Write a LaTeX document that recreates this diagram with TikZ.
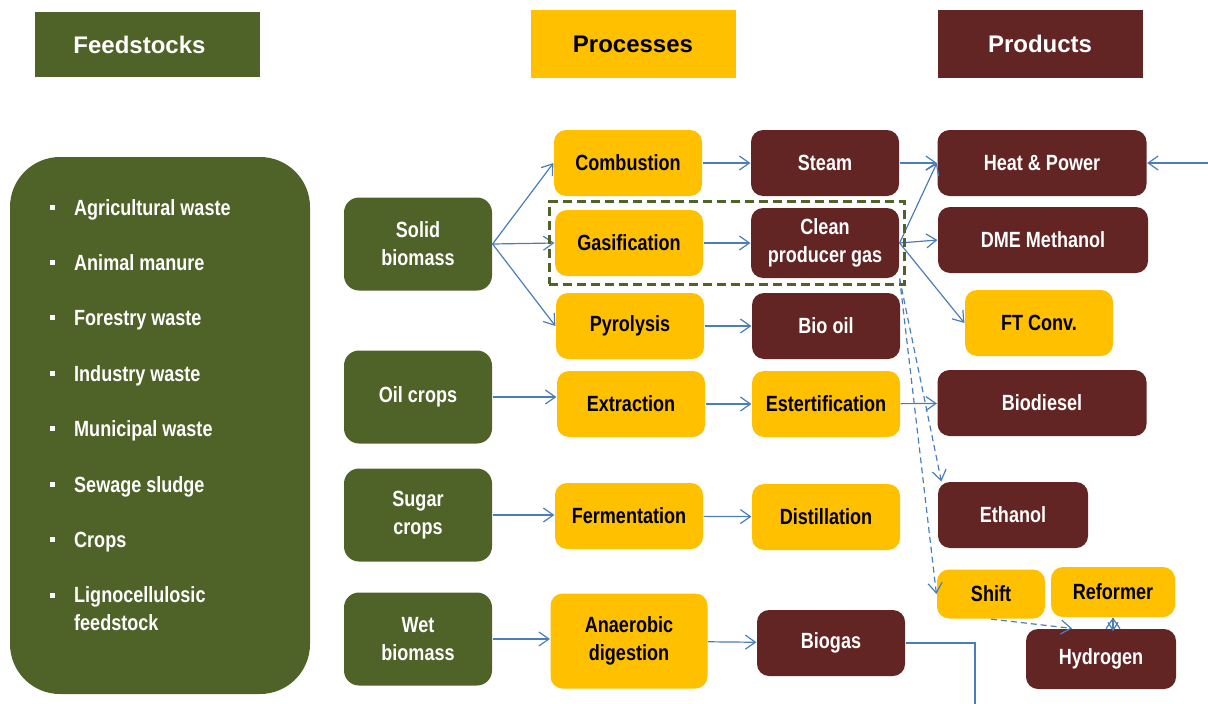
\documentclass[tikz,border=0pt]{standalone}
\usepackage{fontspec}
\setmainfont{Liberation Sans}
\newfontfamily\narrowfont{Liberation Sans}[FakeStretch=0.82]
\usetikzlibrary{arrows.meta,fit}

\definecolor{feedgreen}{HTML}{4F6228}
\definecolor{procyellow}{HTML}{FFC000}
\definecolor{prodred}{HTML}{632523}
\definecolor{linkblue}{HTML}{4A7EBB}

\begin{document}
\begin{tikzpicture}[>={Straight Barb[length=10pt,width=14pt]}, x=1pt, y=-1pt]
    \tikzstyle{box} = [rounded corners=12pt, minimum width=148pt, minimum height=66pt,
	inner sep=2pt, align=center, font=\narrowfont\bfseries\fontsize{22}{28}\selectfont]
    \tikzstyle{feed} = [box, fill=feedgreen, text=white, minimum height=93pt, rounded corners=15pt]
    \tikzstyle{proc} = [box, fill=procyellow, text=black]
    \tikzstyle{prod} = [box, fill=prodred, text=white]
    \tikzstyle{header} = [minimum width=205pt, minimum height=67pt,
	font=\bfseries\fontsize{24}{28}\selectfont]
    \tikzstyle{item} = [anchor=west, inner sep=0pt, align=left, text=white,
	font=\narrowfont\bfseries\fontsize{22}{28}\selectfont]
    \tikzstyle{bullet} = [fill=white, minimum size=5pt, inner sep=0pt]
    \tikzstyle{link} = [->, draw=linkblue, line width=1.2pt]
    \tikzstyle{hint} = [dash pattern=on 6pt off 4pt]
    \tikzstyle{short} = [-{Straight Barb[length=8pt,width=10pt]}]

	\useasboundingbox (0,0) rectangle (1208,704);

	% column headers
	\node[header, fill=feedgreen, text=white, minimum width=225pt, minimum height=65pt] (hfeed) at (147.5,44.5) {Feedstocks\hspace*{16pt}};
	\node[header, fill=procyellow, text=black, minimum height=68pt] (hproc) at (633,44) {Processes};
	\node[header, fill=prodred, text=white, minimum height=68pt] (hprod) at (1040,44) {Products};

	% feedstock list
	\node[fill=feedgreen, rounded corners=50pt, minimum width=300pt, minimum height=537pt] (feedlist) at (160,425.5) {};
	\foreach \name [count=\i from 0] in {Agricultural waste, Animal manure, Forestry waste,
		Industry waste, Municipal waste, Sewage sludge, Crops} {
		\node[bullet] (b\i) at (52.5, 207+55.4*\i) {};
		\node[item, text height=16pt, text depth=0pt] (t\i) at (74, 207+55.4*\i) {\name};
	}
	\node[bullet] (b7) at (52.5, 595) {};
	\node[item] (t7) at (74, 609) {Lignocellulosic\\feedstock};

	\coordinate (ext) at (1208,163);
	\coordinate (gridout) at (975,704);

	\begin{scope}
		\path[link]
			node[feed] (solid) at (418,244) {Solid\\biomass}
			node[feed] (oil)   at (418,397) {Oil crops}
			node[feed] (sugar) at (418,515) {Sugar\\crops}
			node[feed] (wet)   at (418,639) {Wet\\biomass}

			node[proc] (comb) at (628,163) {Combustion}
			node[proc] (gasi) at (629,243) {Gasification}
			node[proc] (pyro) at (630,326) {Pyrolysis}
			node[proc] (extr) at (631,404) {Extraction}
			node[proc] (ferm) at (629,516) {Fermentation}
			node[proc, minimum width=157pt, minimum height=95pt] (anae) at (629,641) {Anaerobic\\digestion}

			node[prod] (steam)  at (825,163) {Steam}
			node[prod, minimum height=70pt] (clean) at (825,243) {Clean\\producer gas}
			node[prod] (biooil) at (826,326) {Bio oil}
			node[proc] (ester)  at (826,404) {Estertification}
			node[proc] (dist)   at (826,517) {Distillation}
			node[prod] (biogas) at (831,643) {Biogas}

			node[prod, minimum width=209pt] (heat) at (1042,163) {Heat \& Power}
			node[prod, minimum width=210pt] (dme)  at (1043,240) {DME Methanol}
			node[proc] (ft) at (1039,323) {FT Conv.}
			node[prod, minimum width=209pt] (biodiesel) at (1042,403) {Biodiesel}
			node[prod, minimum width=150pt] (ethanol) at (1013,515) {Ethanol}
			node[proc, minimum width=108pt, minimum height=49pt] (shift) at (991,594) {Shift}
			node[proc, minimum width=124pt, minimum height=50pt] (reformer) at (1113,592) {Reformer}
			node[prod, minimum width=150pt, minimum height=60pt] (hydrogen) at (1101,659) {Hydrogen}

			(solid.east) edge (comb.west)
			(solid.east) edge (gasi.west)
			(solid.east) edge (pyro.west)
			(oil.east)   edge (oil.east -| extr.west)
			(sugar.east) edge (sugar.east -| ferm.west)
			(wet.east)   edge (wet.east -| anae.west)

			(comb) edge (steam)
			(gasi) edge (clean)
			(pyro) edge (biooil)
			(extr) edge (ester)
			(ferm) edge (dist)
			(anae) edge (biogas)

			(steam) edge (heat)
			(clean.east) edge (heat.west)
			(clean.east) edge (dme.west)
			(clean.east) edge (ft.west)
			(ester) edge (biodiesel)
			(ext) edge (heat)

			(clean.south east) edge[hint] ([xshift=4pt]ethanol.north west)
			(clean.south east) edge[hint] (shift.west)
			(shift.south) edge[hint] ([xshift=-29pt]hydrogen.north)
			(reformer.south) edge[short] ([yshift=-3pt]reformer.south |- hydrogen.north)
		;
	\end{scope}

	\draw[linkblue, line width=1.2pt] (biogas.east) -| (gridout);

	% gasification frame
	\node[draw=feedgreen, line width=3pt, dash pattern=on 9pt off 5pt,
		fit=(gasi)(clean), inner xsep=5pt, inner ysep=5.5pt] (gasframe) {};
\end{tikzpicture}
\end{document}
